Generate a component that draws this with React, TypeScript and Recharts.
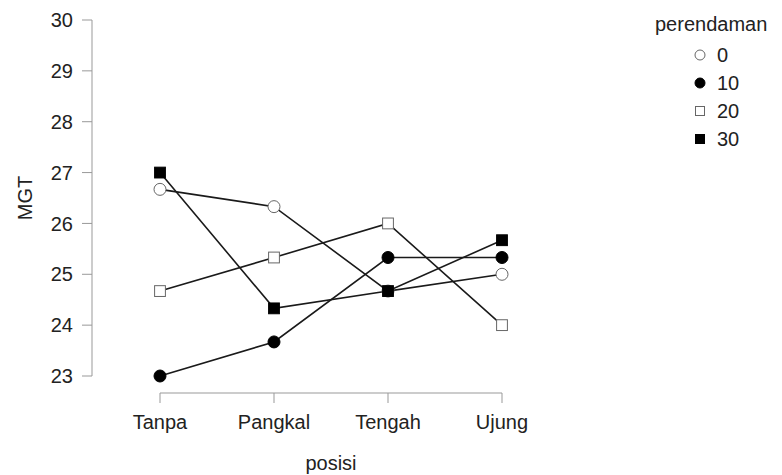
import { Line, LineChart, XAxis, YAxis } from 'recharts';

// posisi (x categories) and MGT per perendaman level
const categories = ['Tanpa', 'Pangkal', 'Tengah', 'Ujung'];
const mgt0 = [26.67, 26.33, 24.67, 25];
const mgt10 = [23, 23.67, 25.33, 25.33];
const mgt20 = [24.67, 25.33, 26, 24];
const mgt30 = [27, 24.33, 24.67, 25.67];
const yTicks = [23, 24, 25, 26, 27, 28, 29, 30];

type Shape = 'circle' | 'square';

const SERIES: { name: string; values: number[]; shape: Shape; filled: boolean }[] = [
  { name: '0', values: mgt0, shape: 'circle', filled: false },
  { name: '10', values: mgt10, shape: 'circle', filled: true },
  { name: '20', values: mgt20, shape: 'square', filled: false },
  { name: '30', values: mgt30, shape: 'square', filled: true },
];

const rows = categories.map((posisi, i) => {
  const row: Record<string, string | number> = { posisi };
  for (const s of SERIES) row[s.name] = s.values[i];
  return row;
});

const FONT = '"Liberation Sans", Arial, sans-serif';
const TEXT = '#222';
const AXIS = '#999';
const LINE = '#1a1a1a';
const PAD_LEFT = 68; // gap between y axis and first category (R-style detached axes)

function Marker({ cx, cy, shape, filled, r }: { cx: number; cy: number; shape: Shape; filled: boolean; r: number }) {
  const fill = filled ? '#000' : '#fff';
  const stroke = filled ? '#000' : '#666';
  if (shape === 'circle') {
    return <circle cx={cx} cy={cy} r={r} fill={fill} stroke={stroke} strokeWidth={1} />;
  }
  const side = r * 1.8;
  return <rect x={cx - side / 2} y={cy - side / 2} width={side} height={side} fill={fill} stroke={stroke} strokeWidth={1} />;
}

function LegendBox() {
  return (
    <div style={{ position: 'absolute', left: 655, top: 12, fontFamily: FONT, fontSize: 20, color: TEXT }}>
      <div style={{ lineHeight: '24px' }}>perendaman</div>
      <div style={{ paddingLeft: 39, marginTop: 5 }}>
        {SERIES.map((s) => (
          <div key={s.name} style={{ height: 28, display: 'flex', alignItems: 'center', gap: 11 }}>
            <svg width={12} height={12}>
              <Marker cx={6} cy={6} r={5} shape={s.shape} filled={s.filled} />
            </svg>
            <span style={{ lineHeight: '28px' }}>{s.name}</span>
          </div>
        ))}
      </div>
    </div>
  );
}

export default function App() {
  return (
    <div style={{ position: 'absolute', left: 0, top: 0, width: 782, height: 475, background: '#fff' }}>
      <LineChart width={782} height={475} data={rows} margin={{ top: 20, right: 280, bottom: 0, left: 0 }}>
        <YAxis
          width={92}
          domain={[23, 30]}
          ticks={yTicks}
          tickSize={10}
          tickMargin={9}
          axisLine={{ stroke: AXIS }}
          tickLine={{ stroke: AXIS }}
          tick={{ fill: TEXT, fontSize: 20, fontFamily: FONT }}
          label={{
            content: ({ viewBox }: any) => (
              <text
                x={viewBox.x + 25}
                y={viewBox.y + viewBox.height / 2}
                transform={`rotate(-90 ${viewBox.x + 25} ${viewBox.y + viewBox.height / 2})`}
                textAnchor="middle"
                dominantBaseline="central"
                fill={TEXT}
                fontSize={20}
                fontFamily={FONT}
              >
                MGT
              </text>
            ),
          }}
        />
        {/* spacer axis: pushes the visible x axis down, away from the plot */}
        <XAxis dataKey="posisi" height={17} padding={{ left: PAD_LEFT, right: 0 }} tick={false} axisLine={false} tickLine={false} />
        <XAxis
          xAxisId="lbl"
          dataKey="posisi"
          height={82}
          padding={{ left: PAD_LEFT, right: 0 }}
          tickSize={10}
          tickMargin={12}
          axisLine={{ stroke: AXIS, strokeDasharray: `0 ${PAD_LEFT} 2000` }}
          tickLine={{ stroke: AXIS }}
          tick={{ fill: TEXT, fontSize: 20, fontFamily: FONT }}
          label={{
            content: ({ viewBox }: any) => (
              <text
                x={viewBox.x + PAD_LEFT + (viewBox.width - PAD_LEFT) / 2}
                y={viewBox.y + viewBox.height - 5}
                textAnchor="middle"
                fill={TEXT}
                fontSize={20}
                fontFamily={FONT}
              >
                posisi
              </text>
            ),
          }}
        />
        {SERIES.map((s) => (
          <Line
            key={s.name}
            dataKey={s.name}
            stroke={LINE}
            strokeWidth={1.6}
            isAnimationActive={false}
            activeDot={false}
            dot={(p: any) => (
              <Marker key={`${s.name}-${p.index}`} cx={p.cx} cy={p.cy} r={6} shape={s.shape} filled={s.filled} />
            )}
          />
        ))}
      </LineChart>
      <LegendBox />
    </div>
  );
}
